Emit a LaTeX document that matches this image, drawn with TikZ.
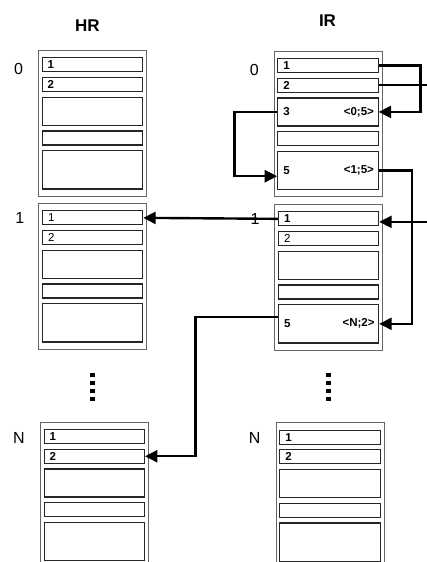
\documentclass[tikz,border=0pt]{standalone}
\usepackage{fontspec}
\setmainfont{Liberation Sans}
\usetikzlibrary{arrows.meta, positioning}

\begin{document}
\begin{tikzpicture}[x=1pt, y=-1pt, >={Triangle[length=12.5pt,width=12pt]}, node distance=4.6pt,
	pagebox/.style={rectangle, draw=black!60, line width=1pt, minimum width=108pt, minimum height=145.5pt, inner sep=0pt, anchor=north west},
	slotbox/.style={rectangle, draw=black!85, line width=1.1pt, minimum width=100.3pt, inner sep=0pt},
	slotnum/.style={font=\bfseries\fontsize{11.5}{12}\selectfont, inner sep=0pt, anchor=west, xshift=6pt},
	slotthin/.style={slotnum, font=\fontsize{11.5}{12}\selectfont},
	slotref/.style={font=\bfseries\fontsize{11.5}{12}\selectfont, inner sep=0pt, anchor=east, xshift=-4.5pt},
	pagenum/.style={font=\fontsize{16}{18}\selectfont, inner sep=0pt},
	head/.style={font=\bfseries\fontsize{17}{19}\selectfont, inner sep=0pt},
	link/.style={line width=2.4pt}]

		\useasboundingbox (0,0) rectangle (426,562);

		% pages with their five slots
		\foreach \pg/\px/\py in {HR0/38/50, HR1/38.3/203, HRN/40/421.7, IR0/273.7/50.7, IR1/274.3/204, IRN/275.7/422.3}{
			\node[pagebox] (\pg) at (\px,\py) {};
			\node[slotbox, minimum height=14pt] (\pg s1) [below right=7.3pt and 3.5pt of \pg.north west] {};
			\node[slotbox, minimum height=14pt] (\pg s2) [below=of \pg s1] {};
			\node[slotbox, minimum height=28pt] (\pg s3) [below=of \pg s2] {};
			\node[slotbox, minimum height=14pt] (\pg s4) [below=of \pg s3] {};
			\node[slotbox, minimum height=38.3pt] (\pg s5) [below=of \pg s4] {};
		}

		\node[head] (HRhead) at (87.5,26) {HR};
		\node[head] (IRhead) at (327.5,21) {IR};

		\node[pagenum] (HR0num) at ([shift={(-19.5,18.8)}]HR0.north west) {0};
		\node[pagenum] (HR1num) at ([shift={(-18.5,15)}]HR1.north west) {1};
		\node[pagenum] (HRNnum) at ([shift={(-21,16)}]HRN.north west) {N};
		\node[pagenum] (IR0num) at ([shift={(-19.5,19.5)}]IR0.north west) {0};
		\node[pagenum] (IR1num) at ([shift={(-19.3,14.5)}]IR1.north west) {1};
		\node[pagenum] (IRNnum) at ([shift={(-21,16)}]IRN.north west) {N};

		% slot texts
		\node[slotnum] (HR0t1) at (HR0s1.west) {1};
		\node[slotnum] (HR0t2) at (HR0s2.west) {2};
		\node[slotthin] (HR1t1) at (HR1s1.west) {1};
		\node[slotthin] (HR1t2) at (HR1s2.west) {2};
		\node[slotnum] (HRNt1) at (HRNs1.west) {1};
		\node[slotnum] (HRNt2) at (HRNs2.west) {2};

		\node[slotnum] (IR0t1) at (IR0s1.west) {1};
		\node[slotnum] (IR0t2) at (IR0s2.west) {2};
		\node[slotnum] (IR0t3) at (IR0s3.west) {3};
		\node[slotref] (IR0r3) at (IR0s3.east) {<0;5>};
		\node[slotnum] (IR0t5) at (IR0s5.west) {5};
		\node[slotref] (IR0r5) at (IR0s5.east) {<1;5>};
		\node[slotnum] (IR1t1) at (IR1s1.west) {1};
		\node[slotthin] (IR1t2) at (IR1s2.west) {2};
		\node[slotnum] (IR1t5) at (IR1s5.west) {5};
		\node[slotref] (IR1r5) at (IR1s5.east) {<N;2>};
		\node[slotnum] (IRNt1) at (IRNs1.west) {1};
		\node[slotnum] (IRNt2) at (IRNs2.west) {2};

		% dots between pages
		\draw[line width=5pt, dash pattern=on 4pt off 4pt] (92.5,372.7) -- (92.5,401);
		\draw[line width=5pt, dash pattern=on 4pt off 4pt] (328.5,372.7) -- (328.5,401);

		% links
		\draw[link,->] (IR0s1.east) -- ++(42,0) |- (IR0s3.east);
		\draw[link,->] (IR0s2.east) -- ++(56,0) |- ([yshift=-3pt]IR1s1.east);
		\draw[link,->] (IR0s3.west) -- ++(-42.6,0) |- ([yshift=-5.7pt]IR0s5.west);
		\draw[link,->] (IR0s5.east) -- ++(33.5,0) |- (IR1s5.east);
		\draw[link,->] (IR1s1.west) -- (HR1s1.east);
		\draw[link,->] ([yshift=6.6pt]IR1s5.west) -- ++(-82.3,0) |- (HRNs2.east);

\end{tikzpicture}
\end{document}
